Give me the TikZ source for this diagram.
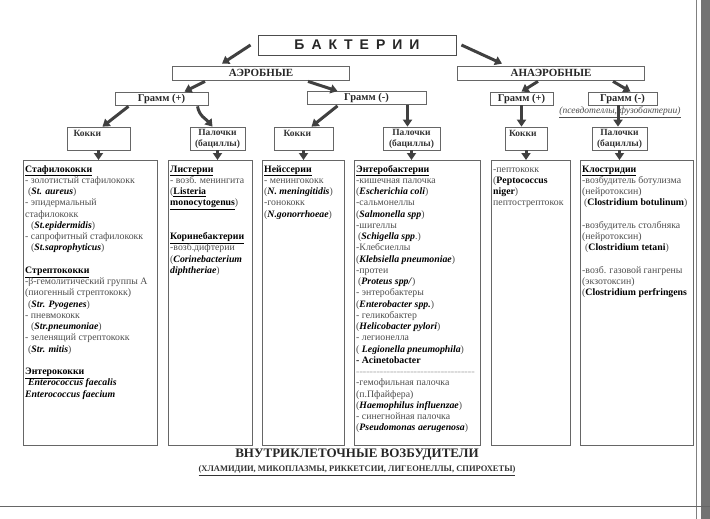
\documentclass[tikz,border=0pt]{standalone}
\usepackage{fontspec}
\setmainfont{Liberation Serif}
\newfontfamily\titlefont{Liberation Sans}
\usetikzlibrary{arrows.meta, positioning}

\newcommand{\grouphead}[1]{\textcolor{black}{\underline{\textbf{#1}}}}
\newcommand{\latname}[1]{\textcolor{black}{\textbf{\textit{#1}}}}
\newcommand{\boldname}[1]{\textcolor{black}{\textbf{#1}}}
\newcommand{\firstline}{\rule{0pt}{8pt}}

\tikzset{
    rootbox/.style={draw=black!70, line width=0.9pt, minimum width=198pt, minimum height=20pt, inner sep=0pt, font=\titlefont\bfseries\fontsize{14}{14}\selectfont, text=black!85},
    typebox/.style={draw=black!60, line width=0.7pt, minimum height=14pt, inner sep=0pt, font=\bfseries\fontsize{11}{11}\selectfont, text=black!85},
    grambox/.style={draw=black!60, line width=0.7pt, minimum height=13pt, inner sep=0pt, font=\bfseries\fontsize{10.5}{10.5}\selectfont, text=black!85},
    formbox/.style={draw=black!60, line width=0.7pt, minimum height=23pt, inner sep=0pt, align=center, font=\bfseries\fontsize{9.5}{11}\selectfont, text=black!80},
    listbox/.style={draw=black!60, line width=0.8pt, minimum height=285pt, inner sep=0pt, anchor=north west},
    listtext/.style={anchor=north west, inner sep=0pt, align=left, font=\fontsize{9.8}{11.25}\selectfont, text=black!70},
    bigarrow/.style={-{Triangle[width=9pt,length=7pt]}, line width=3pt, draw=black!75}
}

\begin{document}
\begin{tikzpicture}[x=1pt, y=-1pt]
    \useasboundingbox (0,0) rectangle (710,519);

    % -----------------------------------------------------------------
    % КРАЙ СКАНА
    % -----------------------------------------------------------------
    \fill[black!55] (701,0) rectangle (710,519);
    \draw[black!50, line width=0.6pt] (696,0) -- (696,519);
    \draw[black!60, line width=0.8pt] (0,506) -- (710,506);

    % Корень и типы дыхания
    \node (bact) [rootbox] at (357,45) {Б\enspace А\enspace К\enspace Т\enspace Е\enspace Р\enspace И\enspace И};
    \node (aer) [typebox, minimum width=177pt] at (261,73) {АЭРОБНЫЕ};
    \node (anaer) [typebox, minimum width=187pt] at (551,73) {АНАЭРОБНЫЕ};

    % Окраска по Граму
    \node (gp1) [grambox, minimum width=93pt] at (161.5,98.5) {Грамм (+)};
    \node (gn1) [grambox, minimum width=119pt] at (366.5,98) {Грамм (-)};
    \node (gp2) [grambox, minimum width=63pt] at (521.5,98.5) {Грамм (+)};
    \node (gn2) [grambox, minimum width=69pt] at (622.5,98.5) {Грамм (-)};
    \node (gn2note) at (620,112) [inner sep=0pt, font=\itshape\fontsize{9.5}{9.5}\selectfont, text=black!70] {\underline{(псевдотеллы, фузобактерии)}};

    % Формы клеток
    \node (kok1) [formbox, minimum width=63pt, align=left, text width=50pt] at (98.5,138.5) {Кокки\\~};
    \node (pal1) [formbox, minimum width=55pt] at (217.5,138.5) {Палочки\\(бациллы)};
    \node (kok2) [formbox, minimum width=59pt, align=left, text width=40pt] at (303.5,138.5) {Кокки\\~};
    \node (pal2) [formbox, minimum width=57pt] at (411.5,138.5) {Палочки\\(бациллы)};
    \node (kok3) [formbox, minimum width=42pt, align=left, text width=34pt] at (526,138.5) {Кокки\\~};
    \node (pal3) [formbox, minimum width=55pt] at (619.5,138.5) {Палочки\\(бациллы)};

    % =================================================================
    % СПИСКИ ВОЗБУДИТЕЛЕЙ
    % =================================================================
    \node (colA) [listbox, minimum width=134pt] at (23,160) {};
    \node (colB) [listbox, minimum width=84pt] at (168,160) {};
    \node (colC) [listbox, minimum width=82pt] at (262,160) {};
    \node (colD) [listbox, minimum width=126pt] at (354,160) {};
    \node (colE) [listbox, minimum width=79pt] at (491,160) {};
    \node (colF) [listbox, minimum width=113pt] at (580,160) {};

    \node (txtA) [listtext] at ([xshift=2pt, yshift=-4pt]colA.north west) {%
        \firstline\grouphead{Стафилококки}\\
        - золотистый стафилококк\\
        \hspace{3pt}(\latname{St. aureus})\\
        - эпидермальный\\
        стафилококк\\
        \hspace{6pt}(\latname{St.epidermidis})\\
        - сапрофитный стафилококк\\
        \hspace{6pt}(\latname{St.saprophyticus})\\
        ~\\
        \grouphead{Стрептококки}\\
        -β-гемолитический группы А\\
        (пиогенный стрептококк)\\
        \hspace{3pt}(\latname{Str. Pyogenes})\\
        - пневмококк\\
        \hspace{6pt}(\latname{Str.pneumoniae})\\
        - зеленящий стрептококк\\
        \hspace{3pt}(\latname{Str. mitis})\\
        ~\\
        \grouphead{Энтерококки}\\
        \hspace{3pt}\latname{Enterococcus faecalis}\\
        \latname{Enterococcus faecium}};

    \node (txtB) [listtext] at ([xshift=2pt, yshift=-4pt]colB.north west) {%
        \firstline\grouphead{Листерии}\\
        - возб. менингита\\
        (\grouphead{Listeria}\\
        \grouphead{monocytogenus})\\
        ~\\
        ~\\
        \grouphead{Коринебактерии}\\
        -возб.дифтерии\\
        (\latname{Corinebacterium}\\
        \latname{diphtheriae})};

    \node (txtC) [listtext] at ([xshift=2pt, yshift=-4pt]colC.north west) {%
        \firstline\grouphead{Нейссерии}\\
        - менингококк\\
        (\latname{N. meningitidis})\\
        -гонококк\\
        (\latname{N.gonorrhoeae})};

    \node (txtD) [listtext] at ([xshift=2pt, yshift=-4pt]colD.north west) {%
        \firstline\grouphead{Энтеробактерии}\\
        -кишечная палочка\\
        (\latname{Escherichia coli})\\
        -сальмонеллы\\
        (\latname{Salmonella spp})\\
        -шигеллы\\
        \hspace{2pt}(\latname{Schigella spp}.)\\
        -Клебсиеллы\\
        (\latname{Klebsiella pneumoniae})\\
        -протеи\\
        \hspace{2pt}(\latname{Proteus spp/})\\
        - энтеробактеры\\
        (\latname{Enterobacter spp.})\\
        - геликобактер\\
        (\latname{Helicobacter pylori})\\
        - легионелла\\
        ( \latname{Legionella pneumophila})\\
        \boldname{- Acinetobacter}\\
        {\fontsize{6}{6}\selectfont\textcolor{black!45}{===================================}}\\
        -гемофильная палочка\\
        (п.Пфайфера)\\
        (\latname{Haemophilus influenzae})\\
        - синегнойная палочка\\
        (\latname{Pseudomonas aerugenosa})};

    \node (txtE) [listtext] at ([xshift=2pt, yshift=-4pt]colE.north west) {%
        \firstline-пептококк\\
        (\boldname{Peptococcus}\\
        \boldname{niger})\\
        пептострептокок};

    \node (txtF) [listtext] at ([xshift=2pt, yshift=-4pt]colF.north west) {%
        \firstline\grouphead{Клостридии}\\
        -возбудитель ботулизма\\
        (нейротоксин)\\
        \hspace{2pt}(\boldname{Clostridium botulinum})\\
        ~\\
        -возбудитель столбняка\\
        (нейротоксин)\\
        \hspace{3pt}(\boldname{Clostridium tetani})\\
        ~\\
        -возб. газовой гангрены\\
        (экзотоксин)\\
        (\boldname{Clostridium perfringens}};

    % Внутриклеточные
    \node (intra) at (357,455) [inner sep=0pt, font=\bfseries\fontsize{13}{13}\selectfont, text=black!85] {ВНУТРИКЛЕТОЧНЫЕ ВОЗБУДИТЕЛИ};
    \node (intralist) [below=5pt of intra, inner sep=0pt, font=\bfseries\fontsize{8.5}{8.5}\selectfont, text=black!80] {\underline{(ХЛАМИДИИ, МИКОПЛАЗМЫ, РИККЕТСИИ, ЛИГЕОНЕЛЛЫ, СПИРОХЕТЫ)}};

    % -----------------------------------------------------------------
    % СТРЕЛКИ
    % -----------------------------------------------------------------
    \draw[bigarrow] ([xshift=-7pt]bact.west) -- ([xshift=-39pt, yshift=2pt]aer.north);
    \draw[bigarrow] ([xshift=5pt]bact.east) -- ([xshift=-49pt, yshift=2pt]anaer.north);

    \draw[bigarrow] ([xshift=-56pt, yshift=-1pt]aer.south) -- ([xshift=23pt]gp1.north);
    \draw[bigarrow] ([xshift=47pt, yshift=-1pt]aer.south) -- ([xshift=-29pt]gn1.north);
    \draw[bigarrow] ([xshift=-13pt, yshift=-1pt]anaer.south) -- (gp2.north);
    \draw[bigarrow] ([xshift=62pt, yshift=-1pt]anaer.south) -- ([xshift=8pt]gn2.north);

    \draw[bigarrow] ([xshift=-33pt, yshift=-1pt]gp1.south) -- ([xshift=4pt]kok1.north);
    \draw[bigarrow] ([xshift=36pt, yshift=-1pt]gp1.south) to[out=-80, in=130] ([xshift=-5pt]pal1.north);
    \draw[bigarrow] ([xshift=-29pt, yshift=-1pt]gn1.south) -- ([xshift=8pt]kok2.north);
    \draw[bigarrow] ([xshift=41pt]gn1.south) -- ([xshift=-4pt]pal2.north);
    \draw[bigarrow] (gp2.south) -- ([xshift=-4.5pt]kok3.north);
    \draw[bigarrow] ([xshift=-4.5pt]gn2.south) -- ([xshift=-1.5pt]pal3.north);

    % короткие стрелки к спискам
    \foreach \form/\col in {kok1/colA, pal1/colB, kok2/colC, pal2/colD, kok3/colE, pal3/colF}
        \draw[bigarrow] (\form.south) -- (\form.south |- \col.north);

\end{tikzpicture}
\end{document}
